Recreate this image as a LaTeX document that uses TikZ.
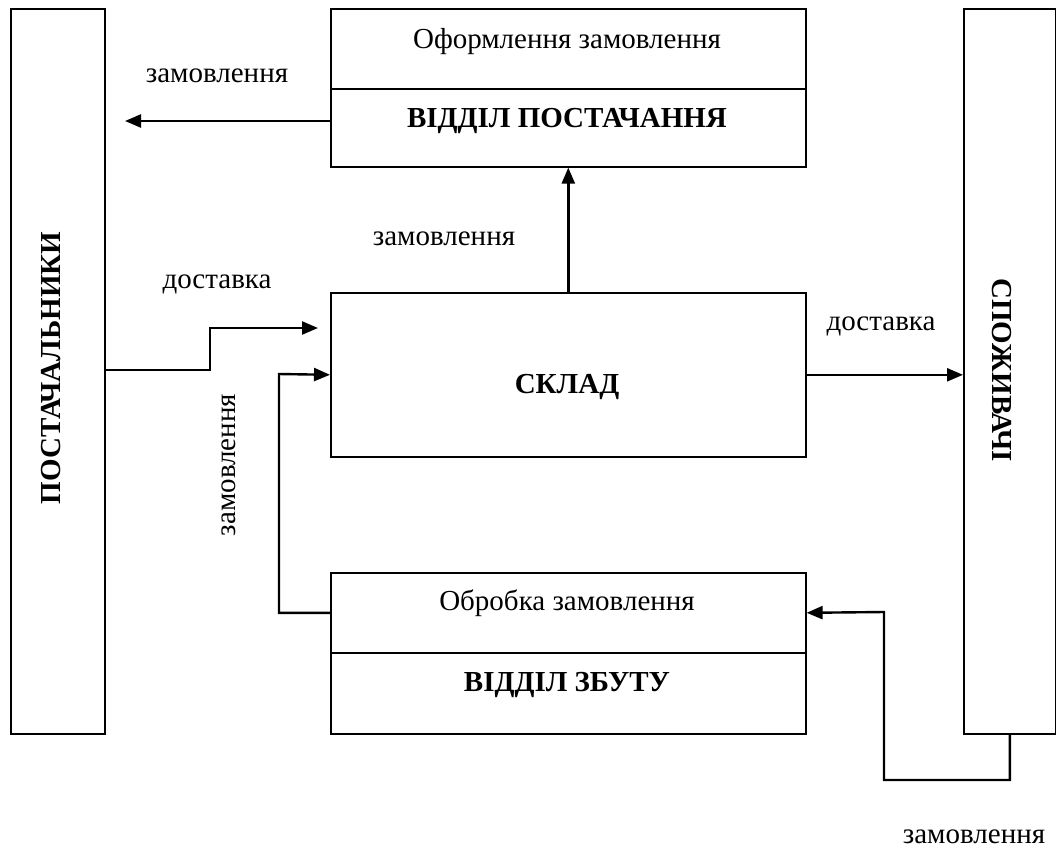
\documentclass[tikz,border=0pt]{standalone}
\usepackage{fontspec}
\setmainfont{Liberation Serif}[BoldFont={Liberation Serif Bold}]
\usetikzlibrary{arrows.meta}
\begin{document}
\begin{tikzpicture}[x=1pt,y=-1pt,
  box/.style={draw,line width=1.6pt,inner sep=0pt,anchor=north west},
  conn/.style={line width=2.4pt},
  arr/.style={conn,-{Triangle[length=16pt,width=13pt]}},
  lbl/.style={anchor=base,inner sep=0pt,font=\fontsize{29}{34}\selectfont},
  blbl/.style={lbl,font=\fontsize{29}{34}\selectfont\bfseries}]
\useasboundingbox (0,0) rectangle (1056,849);
% boxes
\node[box,minimum width=94pt,minimum height=725pt] (post) at (10,8) {};
\node[box,minimum width=92pt,minimum height=725pt] (spoz) at (963,8) {};
\node[box,minimum width=475pt,minimum height=80pt] (supT) at (330,8) {};
\node[box,minimum width=475pt,minimum height=78pt] (supB) at (330,88) {};
\node[box,minimum width=475pt,minimum height=164pt] (sklad) at (330,292) {};
\node[box,minimum width=475pt,minimum height=80pt] (salT) at (330,572) {};
\node[box,minimum width=475pt,minimum height=81pt] (salB) at (330,652) {};
% texts
\node[blbl,rotate=90] (tPost) at (60,368) {ПОСТАЧАЛЬНИКИ};
\node[blbl,rotate=-90] (tSpoz) at (992,370) {СПОЖИВАЧІ};
\node[lbl] (tSupT) at (567,48) {Оформлення замовлення};
\node[blbl] (tSupB) at (567,127) {ВІДДІЛ ПОСТАЧАННЯ};
\node[blbl] (tSklad) at (567,393) {СКЛАД};
\node[lbl] (tSalT) at (567,610) {Обробка замовлення};
\node[blbl] (tSalB) at (567,691) {ВІДДІЛ ЗБУТУ};
\node[lbl] (l1) at (217,82) {замовлення};
\node[lbl] (l2) at (217,288) {доставка};
\node[lbl] (l3) at (444,245) {замовлення};
\node[lbl] (l4) at (881,330) {доставка};
\node[lbl] (l5) at (974,843) {замовлення};
\node[lbl,rotate=90] (l6) at (235,465) {замовлення};
% coordinates
\coordinate (oTip) at (125,121);
\coordinate (d1) at (210,370);
\coordinate (d2) at (318,328);
\coordinate (s1) at (279,374);
\coordinate (b1) at (1009,780);
\coordinate (b2) at (884,612);
% connectors
\draw[arr] (oTip -| supB.west) -- (oTip);
\draw[arr] (sklad.north) -- (supB.south);
\draw[arr] (d1 -| post.east) -- (d1) |- (d2);
\draw[arr] (salT.west) -| (s1) -- (sklad.west);
\draw[arr] (sklad.east) -- (sklad.east -| spoz.west);
\draw[arr] (spoz.south) -- (spoz.south |- b1) -| (b2) -- (salT.east);
\end{tikzpicture}
\end{document}
